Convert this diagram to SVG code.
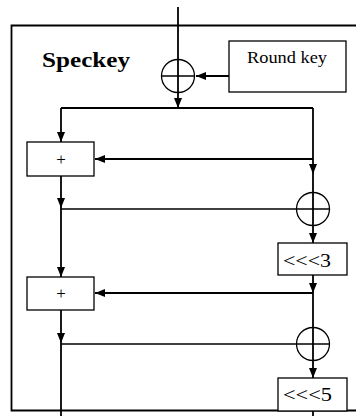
<svg xmlns="http://www.w3.org/2000/svg" width="356" height="416" viewBox="0 0 356 416">
<style>
.ln{stroke:#000;stroke-width:1.8;fill:none}
.th{stroke:#000;stroke-width:1.3;fill:none}
.bx{stroke:#000;stroke-width:1.3;fill:#fff}
.xo{stroke:#000;stroke-width:1.3;fill:none}
.t{font-family:"Liberation Serif","Times New Roman",serif;fill:#000}
</style>
<defs>
<marker id="ah" markerUnits="userSpaceOnUse" markerWidth="10" markerHeight="10" viewBox="0 0 10 10" refX="10" refY="5" orient="auto">
<path d="M0,1 L10,5 L0,9 Z" fill="#000"/>
</marker>
</defs>
<rect width="356" height="416" fill="#fff"/>
<g id="frame"><path class="ln" d="M356,25.5 H11.5 V410.5 H356"/></g>
<g id="title"><text class="t" x="42" y="67" font-size="22" font-weight="bold" textLength="88" lengthAdjust="spacingAndGlyphs">Speckey</text></g>
<g id="connectors">
<path class="ln" d="M178,7 V108" marker-end="url(#ah)"/>
<path class="ln" d="M229,76 H196" marker-end="url(#ah)"/>
<path class="ln" d="M61,108 H313"/>
<path class="ln" d="M61,108 V142" marker-end="url(#ah)"/>
<path class="ln" d="M313,108 V174" marker-end="url(#ah)"/>
<path class="ln" d="M313,174 V243" marker-end="url(#ah)"/>
<path class="ln" d="M313,159 H95" marker-end="url(#ah)"/>
<path class="ln" d="M61,176 V208" marker-end="url(#ah)"/>
<path class="ln" d="M61,208 V277" marker-end="url(#ah)"/>
<path class="th" d="M61,209 H297"/>
<path class="ln" d="M313,275 V293" marker-end="url(#ah)"/>
<path class="ln" d="M313,293 H95" marker-end="url(#ah)"/>
<path class="ln" d="M313,293 V378" marker-end="url(#ah)"/>
<path class="ln" d="M61,310 V343" marker-end="url(#ah)"/>
<path class="ln" d="M61,343 V416"/>
<path class="th" d="M61,344 H297"/>
<path class="ln" d="M313,411 V416"/>
</g>
<g id="xor1"><circle class="xo" cx="178" cy="76" r="16.5"/><path class="th" d="M161.5,76 H194.5"/></g>
<g id="xor2"><circle class="xo" cx="313" cy="209" r="16.5"/><path class="th" d="M296.5,209 H329.5"/></g>
<g id="xor3"><circle class="xo" cx="313" cy="344" r="16.5"/><path class="th" d="M296.5,344 H329.5"/></g>
<g id="roundkey"><rect class="bx" x="229" y="41" width="117" height="51"/><text class="t" x="247" y="63" font-size="16" textLength="80" lengthAdjust="spacingAndGlyphs">Round key</text></g>
<g id="add1"><rect class="bx" x="27" y="142" width="67" height="34"/><text class="t" x="61" y="165" font-size="17" text-anchor="middle">+</text></g>
<g id="add2"><rect class="bx" x="27" y="277" width="67" height="33"/><text class="t" x="61" y="299" font-size="17" text-anchor="middle">+</text></g>
<g id="rot3"><rect class="bx" x="278" y="243" width="69" height="32"/><text class="t" x="283" y="267" font-size="19" textLength="48" lengthAdjust="spacingAndGlyphs">&lt;&lt;&lt;3</text></g>
<g id="rot5"><rect class="bx" x="278" y="378" width="69" height="33"/><text class="t" x="283" y="401" font-size="19" textLength="49" lengthAdjust="spacingAndGlyphs">&lt;&lt;&lt;5</text></g>
</svg>
